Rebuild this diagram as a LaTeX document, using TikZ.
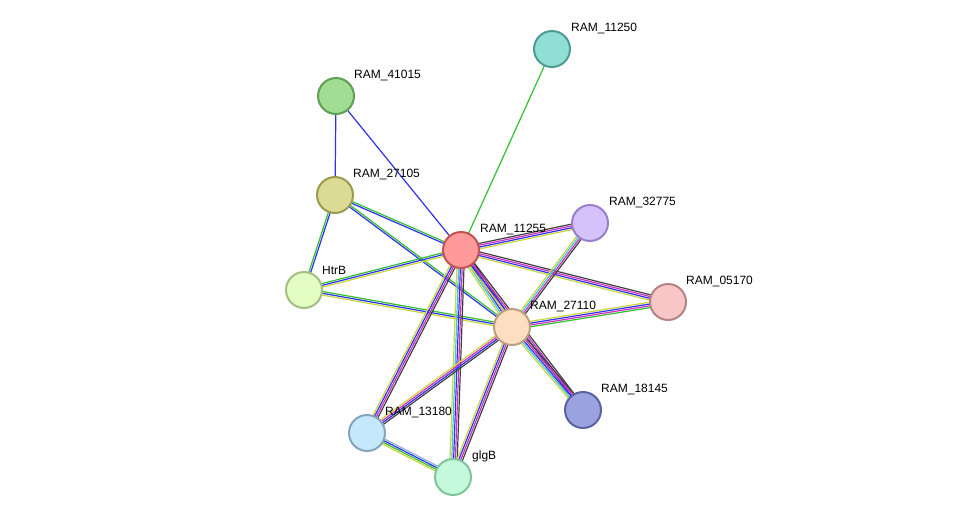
\documentclass[tikz,border=0pt]{standalone}
\usepackage{fontspec}
\setmainfont{Liberation Sans}
\usetikzlibrary{calc}
\definecolor{eY}{HTML}{C8D83A}
\definecolor{eG}{HTML}{30C030}
\definecolor{eB}{HTML}{3030F0}
\definecolor{eM}{HTML}{D030C0}
\definecolor{eK}{HTML}{404040}
\definecolor{eC}{HTML}{40C8D8}
\definecolor{eL}{HTML}{90B0E0}
\definecolor{fa}{HTML}{8FDFD4}\definecolor{da}{HTML}{4F9A92}
\definecolor{fb}{HTML}{A1DE93}\definecolor{db}{HTML}{5E9E55}
\definecolor{fc}{HTML}{DCDB96}\definecolor{dc}{HTML}{9C9A4F}
\definecolor{fd}{HTML}{FF9A9A}\definecolor{dd}{HTML}{C25353}
\definecolor{fe}{HTML}{D5C2FA}\definecolor{de}{HTML}{9980CC}
\definecolor{ff}{HTML}{E3FDC3}\definecolor{df}{HTML}{A4BF82}
\definecolor{fg}{HTML}{F8C6C6}\definecolor{dg}{HTML}{B58585}
\definecolor{fh}{HTML}{FDDEC0}\definecolor{dh}{HTML}{BF9E7F}
\definecolor{fi}{HTML}{9BA3DE}\definecolor{di}{HTML}{5A629F}
\definecolor{fj}{HTML}{C5E8FC}\definecolor{dj}{HTML}{82A5BD}
\definecolor{fk}{HTML}{C4FADB}\definecolor{dk}{HTML}{80C49C}
\tikzset{
  prot/.style={circle,minimum size=36pt,inner sep=0pt,line width=2pt,fill=f#1,draw=d#1},
  lab/.style={anchor=south west,font=\fontsize{12pt}{13pt}\selectfont,inner sep=0pt}
}
\newcommand{\sedge}[4]{%
  \foreach \cc [count=\ii] in {#4}{%
    \pgfmathsetmacro{\oo}{(\ii-(#3+1)/2)*1.8}%
    \draw[\cc,line width=1.2pt] ($(#1)!\oo pt!90:(#2)$) -- ($(#2)!\oo pt!-90:(#1)$);
  }}
\begin{document}
\begin{tikzpicture}[x=1pt,y=-1pt]
\useasboundingbox (0,0) rectangle (976,523);
\coordinate (n11250) at (552,49);
\coordinate (n41015) at (336,96);
\coordinate (n27105) at (335,195);
\coordinate (n11255) at (461,250);
\coordinate (n32775) at (590,223);
\coordinate (nHtrB) at (304,290);
\coordinate (n05170) at (668,302);
\coordinate (n27110) at (512,327);
\coordinate (n18145) at (583,410);
\coordinate (n13180) at (367,433);
\coordinate (nglgB) at (453,477);
\sedge{n11250}{n11255}{1}{eG}
\sedge{n41015}{n27105}{1}{eB}
\sedge{n41015}{n11255}{1}{eB}
\sedge{n27105}{nHtrB}{2}{eG,eB}
\sedge{n27105}{n11255}{2}{eB,eG}
\sedge{n27105}{n27110}{2}{eB,eG}
\sedge{nHtrB}{n11255}{3}{eY,eB,eG}
\sedge{nHtrB}{n27110}{3}{eY,eB,eG}
\sedge{n11255}{n32775}{4}{eY,eB,eM,eK}
\sedge{n11255}{n05170}{4}{eY,eB,eM,eK}
\sedge{n11255}{n27110}{5}{eY,eC,eB,eM,eK}
\sedge{n11255}{n18145}{4}{eY,eB,eM,eK}
\sedge{n11255}{n13180}{4}{eY,eB,eM,eK}
\sedge{n11255}{nglgB}{5}{eY,eC,eB,eM,eK}
\sedge{n32775}{n27110}{4}{eY,eC,eM,eK}
\sedge{n05170}{n27110}{4}{eY,eB,eM,eG}
\sedge{n27110}{n18145}{5}{eY,eC,eB,eM,eK}
\sedge{n27110}{n13180}{4}{eY,eM,eB,eK}
\sedge{n27110}{nglgB}{4}{eY,eB,eM,eK}
\sedge{n13180}{nglgB}{4}{eY,eG,eB,eL}
\node[prot=a] (a) at (n11250) {};
\node[prot=b] (b) at (n41015) {};
\node[prot=c] (c) at (n27105) {};
\node[prot=d] (d) at (n11255) {};
\node[prot=e] (e) at (n32775) {};
\node[prot=f] (f) at (nHtrB) {};
\node[prot=g] (g) at (n05170) {};
\node[prot=h] (h) at (n27110) {};
\node[prot=i] (i) at (n18145) {};
\node[prot=j] (j) at (n13180) {};
\node[prot=k] (k) at (nglgB) {};
\node[lab] at ($(n11250)+(19,-15)$) {RAM\_11250};
\node[lab] at ($(n41015)+(18,-15)$) {RAM\_41015};
\node[lab] at ($(n27105)+(18,-15)$) {RAM\_27105};
\node[lab] at ($(n11255)+(19,-15)$) {RAM\_11255};
\node[lab] at ($(n32775)+(19,-15)$) {RAM\_32775};
\node[lab] at ($(nHtrB)+(18,-15)$) {HtrB};
\node[lab] at ($(n05170)+(18,-15)$) {RAM\_05170};
\node[lab] at ($(n27110)+(18,-15)$) {RAM\_27110};
\node[lab] at ($(n18145)+(18,-15)$) {RAM\_18145};
\node[lab] at ($(n13180)+(18,-15)$) {RAM\_13180};
\node[lab] at ($(nglgB)+(19,-15)$) {glgB};
\end{tikzpicture}
\end{document}
